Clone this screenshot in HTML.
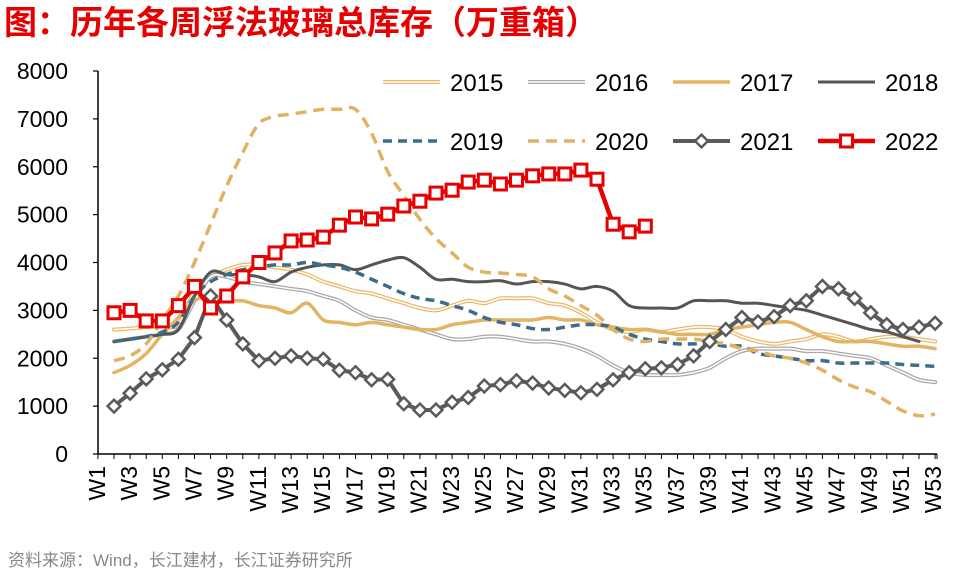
<!DOCTYPE html>
<html><head><meta charset="utf-8">
<style>
body{margin:0;background:#fff;}
svg{display:block;font-family:"Liberation Sans","Noto Sans CJK SC",sans-serif;}
</style></head>
<body>
<svg id="c" width="954" height="574">
<text x="4" y="34" fill="#e60000" font-size="33" font-weight="bold" font-family="'Liberation Sans','Noto Sans CJK SC',sans-serif">图：历年各周浮法玻璃总库存（万重箱）</text>
<text x="8" y="566" fill="#888" font-size="17">资料来源：Wind，长江建材，长江证券研究所</text>
<g id="axes"></g><g id="series"></g><g id="legend"></g>
</svg>
<script>
const weeks = Array.from({length:53},(_,i)=>'W'+(i+1));
const yTicks = [0,1000,2000,3000,4000,5000,6000,7000,8000];
const s2015 = [2600,2620,2650,2680,2700,3400,3700,3850,3950,3950,3900,3850,3750,3600,3500,3400,3350,3250,3150,3050,3000,3100,3200,3150,3250,3250,3250,3150,3100,2950,2750,2600,2550,2600,2550,2600,2650,2650,2600,2450,2350,2300,2350,2400,2500,2450,2350,2400,2450,2450,2400,2350];
const s2016 = [2350,2400,2450,2500,2600,3200,3700,3700,3600,3550,3500,3450,3400,3300,3200,3000,2850,2800,2700,2600,2500,2400,2400,2450,2450,2400,2350,2350,2300,2200,2050,1850,1700,1650,1650,1650,1700,1800,2000,2150,2200,2200,2200,2150,2150,2100,2050,2000,1850,1700,1550,1500];
const s2017 = [1700,1850,2100,2500,2850,3200,3300,3200,3200,3100,3050,2950,3150,2800,2750,2700,2750,2700,2650,2600,2600,2700,2750,2800,2800,2800,2800,2850,2800,2800,2700,2650,2600,2600,2550,2500,2500,2500,2600,2650,2700,2750,2750,2600,2450,2350,2350,2350,2300,2250,2250,2200];
const s2018 = [2350,2400,2450,2500,2600,3300,3800,3750,3750,3700,3600,3800,3900,3950,3950,3850,3950,4050,4100,3900,3650,3650,3600,3600,3620,3550,3600,3600,3550,3450,3500,3400,3100,3050,3050,3050,3200,3200,3200,3150,3150,3100,3050,3000,2900,2800,2700,2600,2550,2450,2350];
const s2019 = [2350,2400,2450,2550,2750,3300,3600,3750,3850,3900,3950,3950,4000,3950,3900,3800,3650,3500,3350,3250,3200,3100,3000,2850,2750,2700,2620,2600,2650,2700,2700,2650,2500,2400,2350,2300,2300,2300,2250,2250,2100,2050,2000,1950,1950,1900,1900,1900,1900,1870,1850,1830];
const s2020 = [1950,2050,2300,2800,3300,4000,4800,5600,6300,6900,7050,7100,7150,7200,7200,7200,6700,5900,5400,4900,4500,4200,3900,3800,3780,3750,3700,3450,3300,3100,2900,2600,2400,2350,2400,2400,2400,2350,2300,2200,2150,2050,2000,1900,1750,1550,1400,1300,1100,900,800,830];
const s2021 = [1000,1270,1570,1760,1980,2430,3300,2800,2300,1950,2000,2050,2000,1980,1750,1700,1550,1560,1050,920,920,1080,1180,1420,1450,1530,1480,1380,1330,1280,1350,1550,1700,1780,1800,1870,2050,2350,2600,2850,2760,2870,3100,3200,3500,3450,3250,2950,2700,2600,2650,2730];
const s2022 = [2950,3000,2780,2780,3100,3500,3050,3300,3700,4000,4200,4450,4470,4530,4780,4950,4910,5010,5180,5280,5450,5510,5680,5720,5640,5720,5810,5850,5850,5930,5740,4800,4640,4760];

const NS='http://www.w3.org/2000/svg';
const X0=114, XS=16.1, Y0=454, YS=(454-71)/8000;
const xs=i=>X0+i*XS, ys=v=>Y0-v*YS;
function el(t,a,p){const e=document.createElementNS(NS,t);for(const k in a)e.setAttribute(k,a[k]);p.appendChild(e);return e;}
const axes=document.getElementById('axes'),ser=document.getElementById('series'),leg=document.getElementById('legend');

let ya=el('line',{x1:98,y1:71,x2:98,y2:454,stroke:'#000','stroke-width':1.5},axes);


let xa=el('line',{x1:98,y1:454,x2:937,y2:454,stroke:'#000','stroke-width':1.5},axes);


yTicks.forEach(v=>{
  el('line',{x1:93,y1:ys(v),x2:98,y2:ys(v),stroke:'#000','stroke-width':1.2},axes);
  const t=el('text',{x:68,y:ys(v)+8,'text-anchor':'end','font-size':23,fill:'#000'},axes);
  t.textContent=v;
  
  
});
for(let i=-1;i<=51;i++){const x=Math.min(xs(i),937);el('line',{x1:x,y1:454,x2:x,y2:459,stroke:'#000','stroke-width':1},axes);}
el('line',{x1:937,y1:454,x2:937,y2:459,stroke:'#000','stroke-width':1},axes);
weeks.forEach((w,i)=>{
  if(i%2) return;
  const cx=97+i*16.08;
  const t=el('text',{transform:`translate(${cx+8},466) rotate(-90)`,'text-anchor':'end','font-size':23,fill:'#000'},axes);
  t.textContent=w;
  
  
});

function smooth(pts){let d=`M${pts[0][0]},${pts[0][1]}`;for(let i=0;i<pts.length-1;i++){const p0=pts[i-1]||pts[i],p1=pts[i],p2=pts[i+1],p3=pts[i+2]||p2;const c1=[p1[0]+(p2[0]-p0[0])/6,p1[1]+(p2[1]-p0[1])/6],c2=[p2[0]-(p3[0]-p1[0])/6,p2[1]-(p3[1]-p1[1])/6];d+=`C${c1[0]},${c1[1]} ${c2[0]},${c2[1]} ${p2[0]},${p2[1]}`;}return d;}
const pts=a=>a.map((v,i)=>[xs(i),ys(v)]);
function line(data,style,name,smoothOn){const p=pts(data);const d=smoothOn?smooth(p):'M'+p.map(q=>q.join(',')).join('L');const e=el('path',Object.assign({d,fill:'none','stroke-linejoin':'round','stroke-linecap':'round'},style),ser);return p;}

line(s2015,{stroke:'#e8b96a','stroke-width':4},'series-2015',true);
line(s2015,{stroke:'#fff','stroke-width':1.5},'series-2015-inner',true);
line(s2016,{stroke:'#a8a8a8','stroke-width':4},'series-2016',true);
line(s2016,{stroke:'#fff','stroke-width':1.5},'series-2016-inner',true);
line(s2017,{stroke:'#e3b463','stroke-width':3.5},'series-2017',true);
line(s2018,{stroke:'#555','stroke-width':3},'series-2018',true);
line(s2019,{stroke:'#3e6c8c','stroke-width':3.5,'stroke-dasharray':'9 6','stroke-linecap':'butt'},'series-2019',true);
line(s2020,{stroke:'#e0b261','stroke-width':3.5,'stroke-dasharray':'11 7','stroke-linecap':'butt'},'series-2020',true);
line(s2021,{stroke:'#5a5a5a','stroke-width':4},'series-2021',false).forEach(([x,y])=>{
  const m=el('rect',{x:x-4.5,y:y-4.5,width:9,height:9,fill:'#fff',stroke:'#5a5a5a','stroke-width':2.5,transform:`rotate(45 ${x} ${y})`},ser);
  
  
});
line(s2022,{stroke:'#e60000','stroke-width':4.5},'series-2022',false).forEach(([x,y])=>{
  const m=el('rect',{x:x-6,y:y-6,width:12,height:12,fill:'#fff',stroke:'#e60000','stroke-width':3},ser);
  
  
});

const legItems=[['2015',{stroke:'#e8b96a','stroke-width':4},'w'],['2016',{stroke:'#a8a8a8','stroke-width':4},'w'],['2017',{stroke:'#e3b463','stroke-width':3.5}],['2018',{stroke:'#555','stroke-width':3}],
['2019',{stroke:'#3e6c8c','stroke-width':3.5,'stroke-dasharray':'9 6'}],['2020',{stroke:'#e0b261','stroke-width':3.5,'stroke-dasharray':'11 7'}],['2021',{stroke:'#5a5a5a','stroke-width':4},'d'],['2022',{stroke:'#e60000','stroke-width':4.5},'s']];
legItems.forEach(([lab,st,mk],i)=>{
  const x=383+(i%4)*145, y=i<4?82:141;
  const g=el('g',{},leg);
  
  
  el('line',Object.assign({x1:x,y1:y,x2:x+57,y2:y},st),g);
  if(mk==='w')el('line',{x1:x,y1:y,x2:x+57,y2:y,stroke:'#fff','stroke-width':1.5},g);
  if(mk==='d')el('rect',{x:x+24,y:y-4.5,width:9,height:9,fill:'#fff',stroke:'#5a5a5a','stroke-width':2.5,transform:`rotate(45 ${x+28.5} ${y})`},g);
  if(mk==='s')el('rect',{x:x+22.5,y:y-6,width:12,height:12,fill:'#fff',stroke:'#e60000','stroke-width':3},g);
  const t=el('text',{x:x+67,y:y+9,'font-size':24,fill:'#000'},g);t.textContent=lab;
});
</script>
</body></html>
